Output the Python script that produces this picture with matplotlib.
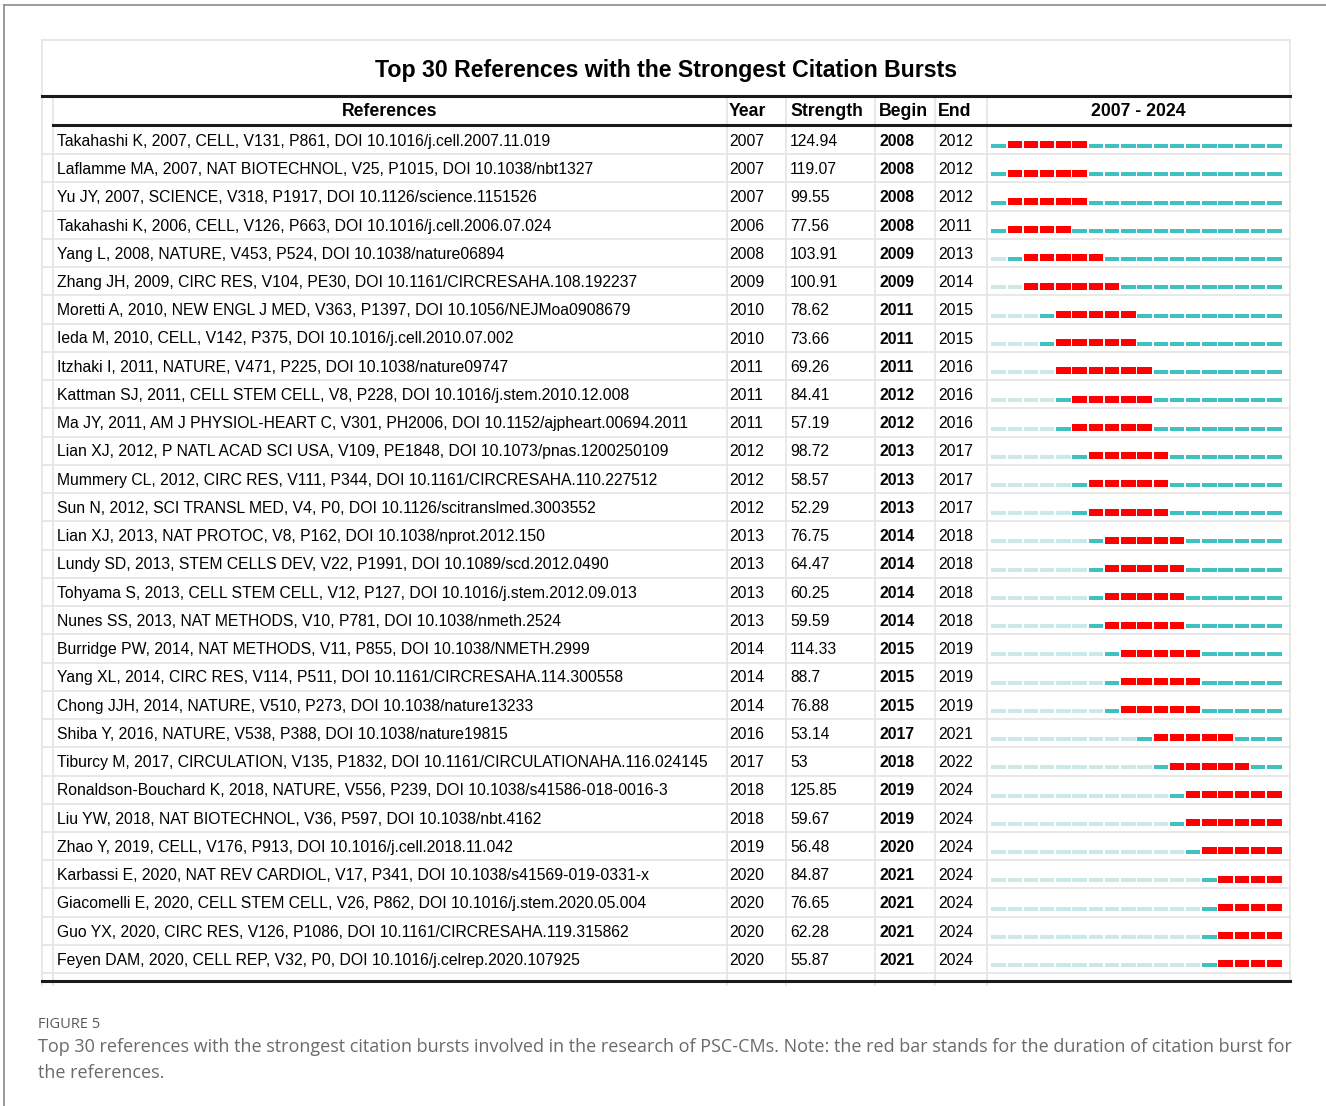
import numpy as np
import matplotlib
matplotlib.use('Agg')
import matplotlib.pyplot as plt

# citation burst table data
refs = [
    'Takahashi K, 2007, CELL, V131, P861, DOI 10.1016/j.cell.2007.11.019',
    'Laflamme MA, 2007, NAT BIOTECHNOL, V25, P1015, DOI 10.1038/nbt1327',
    'Yu JY, 2007, SCIENCE, V318, P1917, DOI 10.1126/science.1151526',
    'Takahashi K, 2006, CELL, V126, P663, DOI 10.1016/j.cell.2006.07.024',
    'Yang L, 2008, NATURE, V453, P524, DOI 10.1038/nature06894',
    'Zhang JH, 2009, CIRC RES, V104, PE30, DOI 10.1161/CIRCRESAHA.108.192237',
    'Moretti A, 2010, NEW ENGL J MED, V363, P1397, DOI 10.1056/NEJMoa0908679',
    'Ieda M, 2010, CELL, V142, P375, DOI 10.1016/j.cell.2010.07.002',
    'Itzhaki I, 2011, NATURE, V471, P225, DOI 10.1038/nature09747',
    'Kattman SJ, 2011, CELL STEM CELL, V8, P228, DOI 10.1016/j.stem.2010.12.008',
    'Ma JY, 2011, AM J PHYSIOL-HEART C, V301, PH2006, DOI 10.1152/ajpheart.00694.2011',
    'Lian XJ, 2012, P NATL ACAD SCI USA, V109, PE1848, DOI 10.1073/pnas.1200250109',
    'Mummery CL, 2012, CIRC RES, V111, P344, DOI 10.1161/CIRCRESAHA.110.227512',
    'Sun N, 2012, SCI TRANSL MED, V4, P0, DOI 10.1126/scitranslmed.3003552',
    'Lian XJ, 2013, NAT PROTOC, V8, P162, DOI 10.1038/nprot.2012.150',
    'Lundy SD, 2013, STEM CELLS DEV, V22, P1991, DOI 10.1089/scd.2012.0490',
    'Tohyama S, 2013, CELL STEM CELL, V12, P127, DOI 10.1016/j.stem.2012.09.013',
    'Nunes SS, 2013, NAT METHODS, V10, P781, DOI 10.1038/nmeth.2524',
    'Burridge PW, 2014, NAT METHODS, V11, P855, DOI 10.1038/NMETH.2999',
    'Yang XL, 2014, CIRC RES, V114, P511, DOI 10.1161/CIRCRESAHA.114.300558',
    'Chong JJH, 2014, NATURE, V510, P273, DOI 10.1038/nature13233',
    'Shiba Y, 2016, NATURE, V538, P388, DOI 10.1038/nature19815',
    'Tiburcy M, 2017, CIRCULATION, V135, P1832, DOI 10.1161/CIRCULATIONAHA.116.024145',
    'Ronaldson-Bouchard K, 2018, NATURE, V556, P239, DOI 10.1038/s41586-018-0016-3',
    'Liu YW, 2018, NAT BIOTECHNOL, V36, P597, DOI 10.1038/nbt.4162',
    'Zhao Y, 2019, CELL, V176, P913, DOI 10.1016/j.cell.2018.11.042',
    'Karbassi E, 2020, NAT REV CARDIOL, V17, P341, DOI 10.1038/s41569-019-0331-x',
    'Giacomelli E, 2020, CELL STEM CELL, V26, P862, DOI 10.1016/j.stem.2020.05.004',
    'Guo YX, 2020, CIRC RES, V126, P1086, DOI 10.1161/CIRCRESAHA.119.315862',
    'Feyen DAM, 2020, CELL REP, V32, P0, DOI 10.1016/j.celrep.2020.107925',
]
years = [2007, 2007, 2007, 2006, 2008, 2009, 2010, 2010, 2011, 2011, 2011, 2012,
         2012, 2012, 2013, 2013, 2013, 2013, 2014, 2014, 2014, 2016, 2017, 2018,
         2018, 2019, 2020, 2020, 2020, 2020]
strengths = ['124.94', '119.07', '99.55', '77.56', '103.91', '100.91', '78.62',
             '73.66', '69.26', '84.41', '57.19', '98.72', '58.57', '52.29', '76.75',
             '64.47', '60.25', '59.59', '114.33', '88.7', '76.88', '53.14', '53',
             '125.85', '59.67', '56.48', '84.87', '76.65', '62.28', '55.87']
begins = [2008, 2008, 2008, 2008, 2009, 2009, 2011, 2011, 2011, 2012, 2012, 2013,
          2013, 2013, 2014, 2014, 2014, 2014, 2015, 2015, 2015, 2017, 2018, 2019,
          2019, 2020, 2021, 2021, 2021, 2021]
ends = [2012, 2012, 2012, 2011, 2013, 2014, 2015, 2015, 2016, 2016, 2016, 2017,
        2017, 2017, 2018, 2018, 2018, 2018, 2019, 2019, 2019, 2021, 2022, 2024,
        2024, 2024, 2024, 2024, 2024, 2024]
first_year, last_year = 2007, 2024

FONT = 'Liberation Sans'
GRID = '#e4e4e4'
RED = '#ff0000'
TEAL = '#3ec1bf'
LIGHT = '#cce9e9'

W, H = 1326, 1106
fig = plt.figure(figsize=(W / 100, H / 100), dpi=100)
ax = fig.add_axes([0, 0, 1, 1])
ax.set_xlim(0, W)
ax.set_ylim(H, 0)
ax.axis('off')

n = len(refs)
row_h = 28.24
top = 126
bottom = top + n * row_h

# outer frame
ax.plot([4, W], [5, 5], color='#8a8a8a', lw=1.2)
ax.plot([4, 4], [5, H], color='#8a8a8a', lw=1.2)

# title box
ax.plot([42, 1290], [40, 40], color=GRID, lw=1.2)
ax.plot([42, 42], [40, 985], color=GRID, lw=1.2)
ax.plot([1290, 1290], [40, 981], color=GRID, lw=1.2)
ax.text(666, 70.5, 'Top 30 References with the Strongest Citation Bursts',
        ha='center', va='center', fontsize=16.7, fontweight='bold', family=FONT)

# column grid
for x in [53, 727, 786, 875, 935, 987]:
    ax.plot([x, x], [96, 985], color=GRID, lw=1.2)
for i in range(1, n + 1):
    y = top + i * row_h
    ax.plot([42, 1290], [y, y], color=GRID, lw=1.2)

ax.plot([42, 1290], [96, 96], color='#1a1a1a', lw=2.2)
ax.plot([53, 1290], [125, 125], color='#1a1a1a', lw=2.2)
ax.plot([42, 1290], [981, 981], color='#1a1a1a', lw=2.2)

# header
hy = 112
hk = dict(va='center', fontsize=12.7, fontweight='bold', family=FONT)
ax.text(390, hy, 'References', ha='center', **hk)
ax.text(729, hy, 'Year', ha='left', **hk)
ax.text(790, hy, 'Strength', ha='left', **hk)
ax.text(879, hy, 'Begin', ha='left', **hk)
ax.text(938, hy, 'End', ha='left', **hk)
ax.text(1138, hy, '%d - %d' % (first_year, last_year), ha='center', **hk)

# rows
tk = dict(va='center', fontsize=11.3, family=FONT)
for i in range(n):
    y = top + (i + 0.5) * row_h + 1.2
    ax.text(57, y, refs[i], ha='left', **tk)
    ax.text(729, y, str(years[i]), ha='left', **tk)
    ax.text(790, y, strengths[i], ha='left', **tk)
    ax.text(879, y, str(begins[i]), ha='left', fontweight='bold', **tk)
    ax.text(938, y, str(ends[i]), ha='left', **tk)

# burst bars
pitch = 16.22
x0c = 998.6
bx = fig.add_axes([987 / W, 1 - bottom / H, 303 / W, (bottom - top) / H])
bx.set_xlim(first_year - (x0c - 987) / pitch, first_year + (1290 - x0c) / pitch)
bx.set_ylim(n, 0)
bx.axis('off')
all_years = np.arange(first_year, last_year + 1)
for i in range(n):
    yrs = all_years
    before = yrs < years[i]
    burst = (yrs >= begins[i]) & (yrs <= ends[i])
    normal = ~before & ~burst
    bx.bar(yrs[before], 4.0 / row_h, bottom=i + 0.5 + 4.0 / row_h, width=0.89,
           color=LIGHT, linewidth=0)
    bx.bar(yrs[normal], 4.0 / row_h, bottom=i + 0.5 + 4.0 / row_h, width=0.89,
           color=TEAL, linewidth=0)
    bx.bar(yrs[burst], 7.0 / row_h, bottom=i + 0.5 + 1.3 / row_h, width=0.89,
           color=RED, linewidth=0)

# caption
ax.text(38, 1024, 'FIGURE 5', ha='left', va='center', fontsize=10.5,
        color='#5a5a5a', family='Open Sans')
cap = ('Top 30 references with the strongest citation bursts involved in the research of '
       'PSC-CMs. Note: the red bar stands for the duration of citation burst for\nthe references.')
ax.text(38, 1038, cap, ha='left', va='top', fontsize=12.95, color='#6a6a6a',
        family='Open Sans', linespacing=1.6)

fig.savefig('out.png', dpi=100)
